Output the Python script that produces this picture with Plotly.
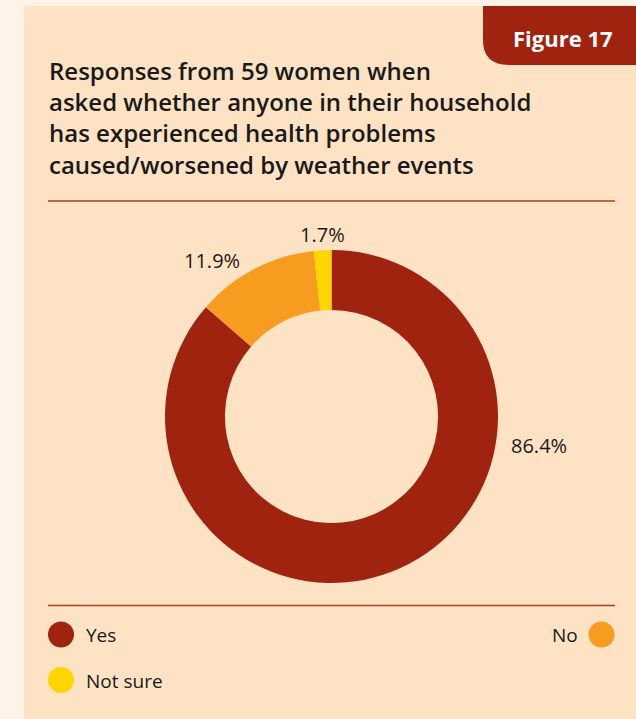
import plotly.graph_objects as go

W, H = 636, 719

categories = ["Yes", "No", "Not sure"]
values = [86.4, 11.9, 1.7]
colors = ["#A0230F", "#F89C1F", "#FFD500"]
title_lines = [
    "Responses from 59 women when",
    "asked whether anyone in their household",
    "has experienced health problems",
    "caused/worsened by weather events",
]
figure_label = "Figure 17"

def px(x):
    return x / W

def py(y):
    return 1 - y / H

fig = go.Figure()

fig.add_trace(go.Pie(
    labels=categories,
    values=values,
    marker=dict(colors=colors, line=dict(width=0)),
    hole=0.64,
    sort=False,
    direction="clockwise",
    rotation=0,
    textinfo="none",
    hoverinfo="label+percent",
    showlegend=False,
    domain=dict(x=[px(165), px(498)], y=[py(583), py(250)]),
))

PANEL = "#FEE2C4"
LINE = "#B03A22"
TEXT = "#1a1a1a"
FONT = "Open Sans"

shapes = [
    dict(type="rect", xref="paper", yref="paper", x0=px(24), x1=1, y0=0, y1=py(6),
         fillcolor=PANEL, line=dict(width=0), layer="below"),
    dict(type="path", xref="paper", yref="paper",
         path=(f"M {px(483)},{py(6)} L 1,{py(6)} L 1,{py(65)} L {px(509)},{py(65)} "
               f"Q {px(483)},{py(65)} {px(483)},{py(40)} Z"),
         fillcolor="#A0230F", line=dict(width=0), layer="below"),
    dict(type="line", xref="paper", yref="paper", x0=px(48), x1=px(615), y0=py(201), y1=py(201),
         line=dict(color=LINE, width=1.5), layer="below"),
    dict(type="line", xref="paper", yref="paper", x0=px(48), x1=px(615), y0=py(605.5), y1=py(605.5),
         line=dict(color=LINE, width=1.5), layer="below"),
]

legend_pos = {"Yes": (61, 634.5), "No": (601.5, 634.5), "Not sure": (61, 680)}
for cat, col in zip(categories, colors):
    cx, cy = legend_pos[cat]
    r = 13
    shapes.append(dict(type="circle", xref="paper", yref="paper",
                       x0=px(cx - r), x1=px(cx + r), y0=py(cy + r), y1=py(cy - r),
                       fillcolor=col, line=dict(width=0), layer="above"))

annotations = [
    dict(text=figure_label, x=px(563), y=py(38), xref="paper", yref="paper",
         xanchor="center", yanchor="middle", showarrow=False,
         font=dict(family=FONT, size=22, color="white", weight=700)),
    dict(text="<br>".join(title_lines), x=px(47), y=py(117.5), xref="paper", yref="paper",
         xanchor="left", yanchor="middle", align="left", showarrow=False,
         font=dict(family=FONT, size=24, color=TEXT, weight=600)),
]

label_pos = {"Yes": (539, 445), "No": (212, 260), "Not sure": (322, 234)}
for cat, v in zip(categories, values):
    x, y = label_pos[cat]
    annotations.append(dict(text=f"{v:.1f}%", x=px(x), y=py(y), xref="paper", yref="paper",
                            xanchor="center", yanchor="middle", showarrow=False,
                            font=dict(family=FONT, size=20, color=TEXT)))

annotations.append(dict(text="Yes", x=px(84), y=py(635), xref="paper", yref="paper",
                        xanchor="left", yanchor="middle", showarrow=False,
                        font=dict(family=FONT, size=19, color=TEXT)))
annotations.append(dict(text="No", x=px(580), y=py(635), xref="paper", yref="paper",
                        xanchor="right", yanchor="middle", showarrow=False,
                        font=dict(family=FONT, size=19, color=TEXT)))
annotations.append(dict(text="Not sure", x=px(84), y=py(681), xref="paper", yref="paper",
                        xanchor="left", yanchor="middle", showarrow=False,
                        font=dict(family=FONT, size=19, color=TEXT)))

fig.update_layout(
    width=W, height=H,
    margin=dict(l=0, r=0, t=0, b=0),
    paper_bgcolor="#FEF3E9",
    plot_bgcolor="#FEF3E9",
    shapes=shapes,
    annotations=annotations,
    showlegend=False,
)

fig.write_html("out.html")
